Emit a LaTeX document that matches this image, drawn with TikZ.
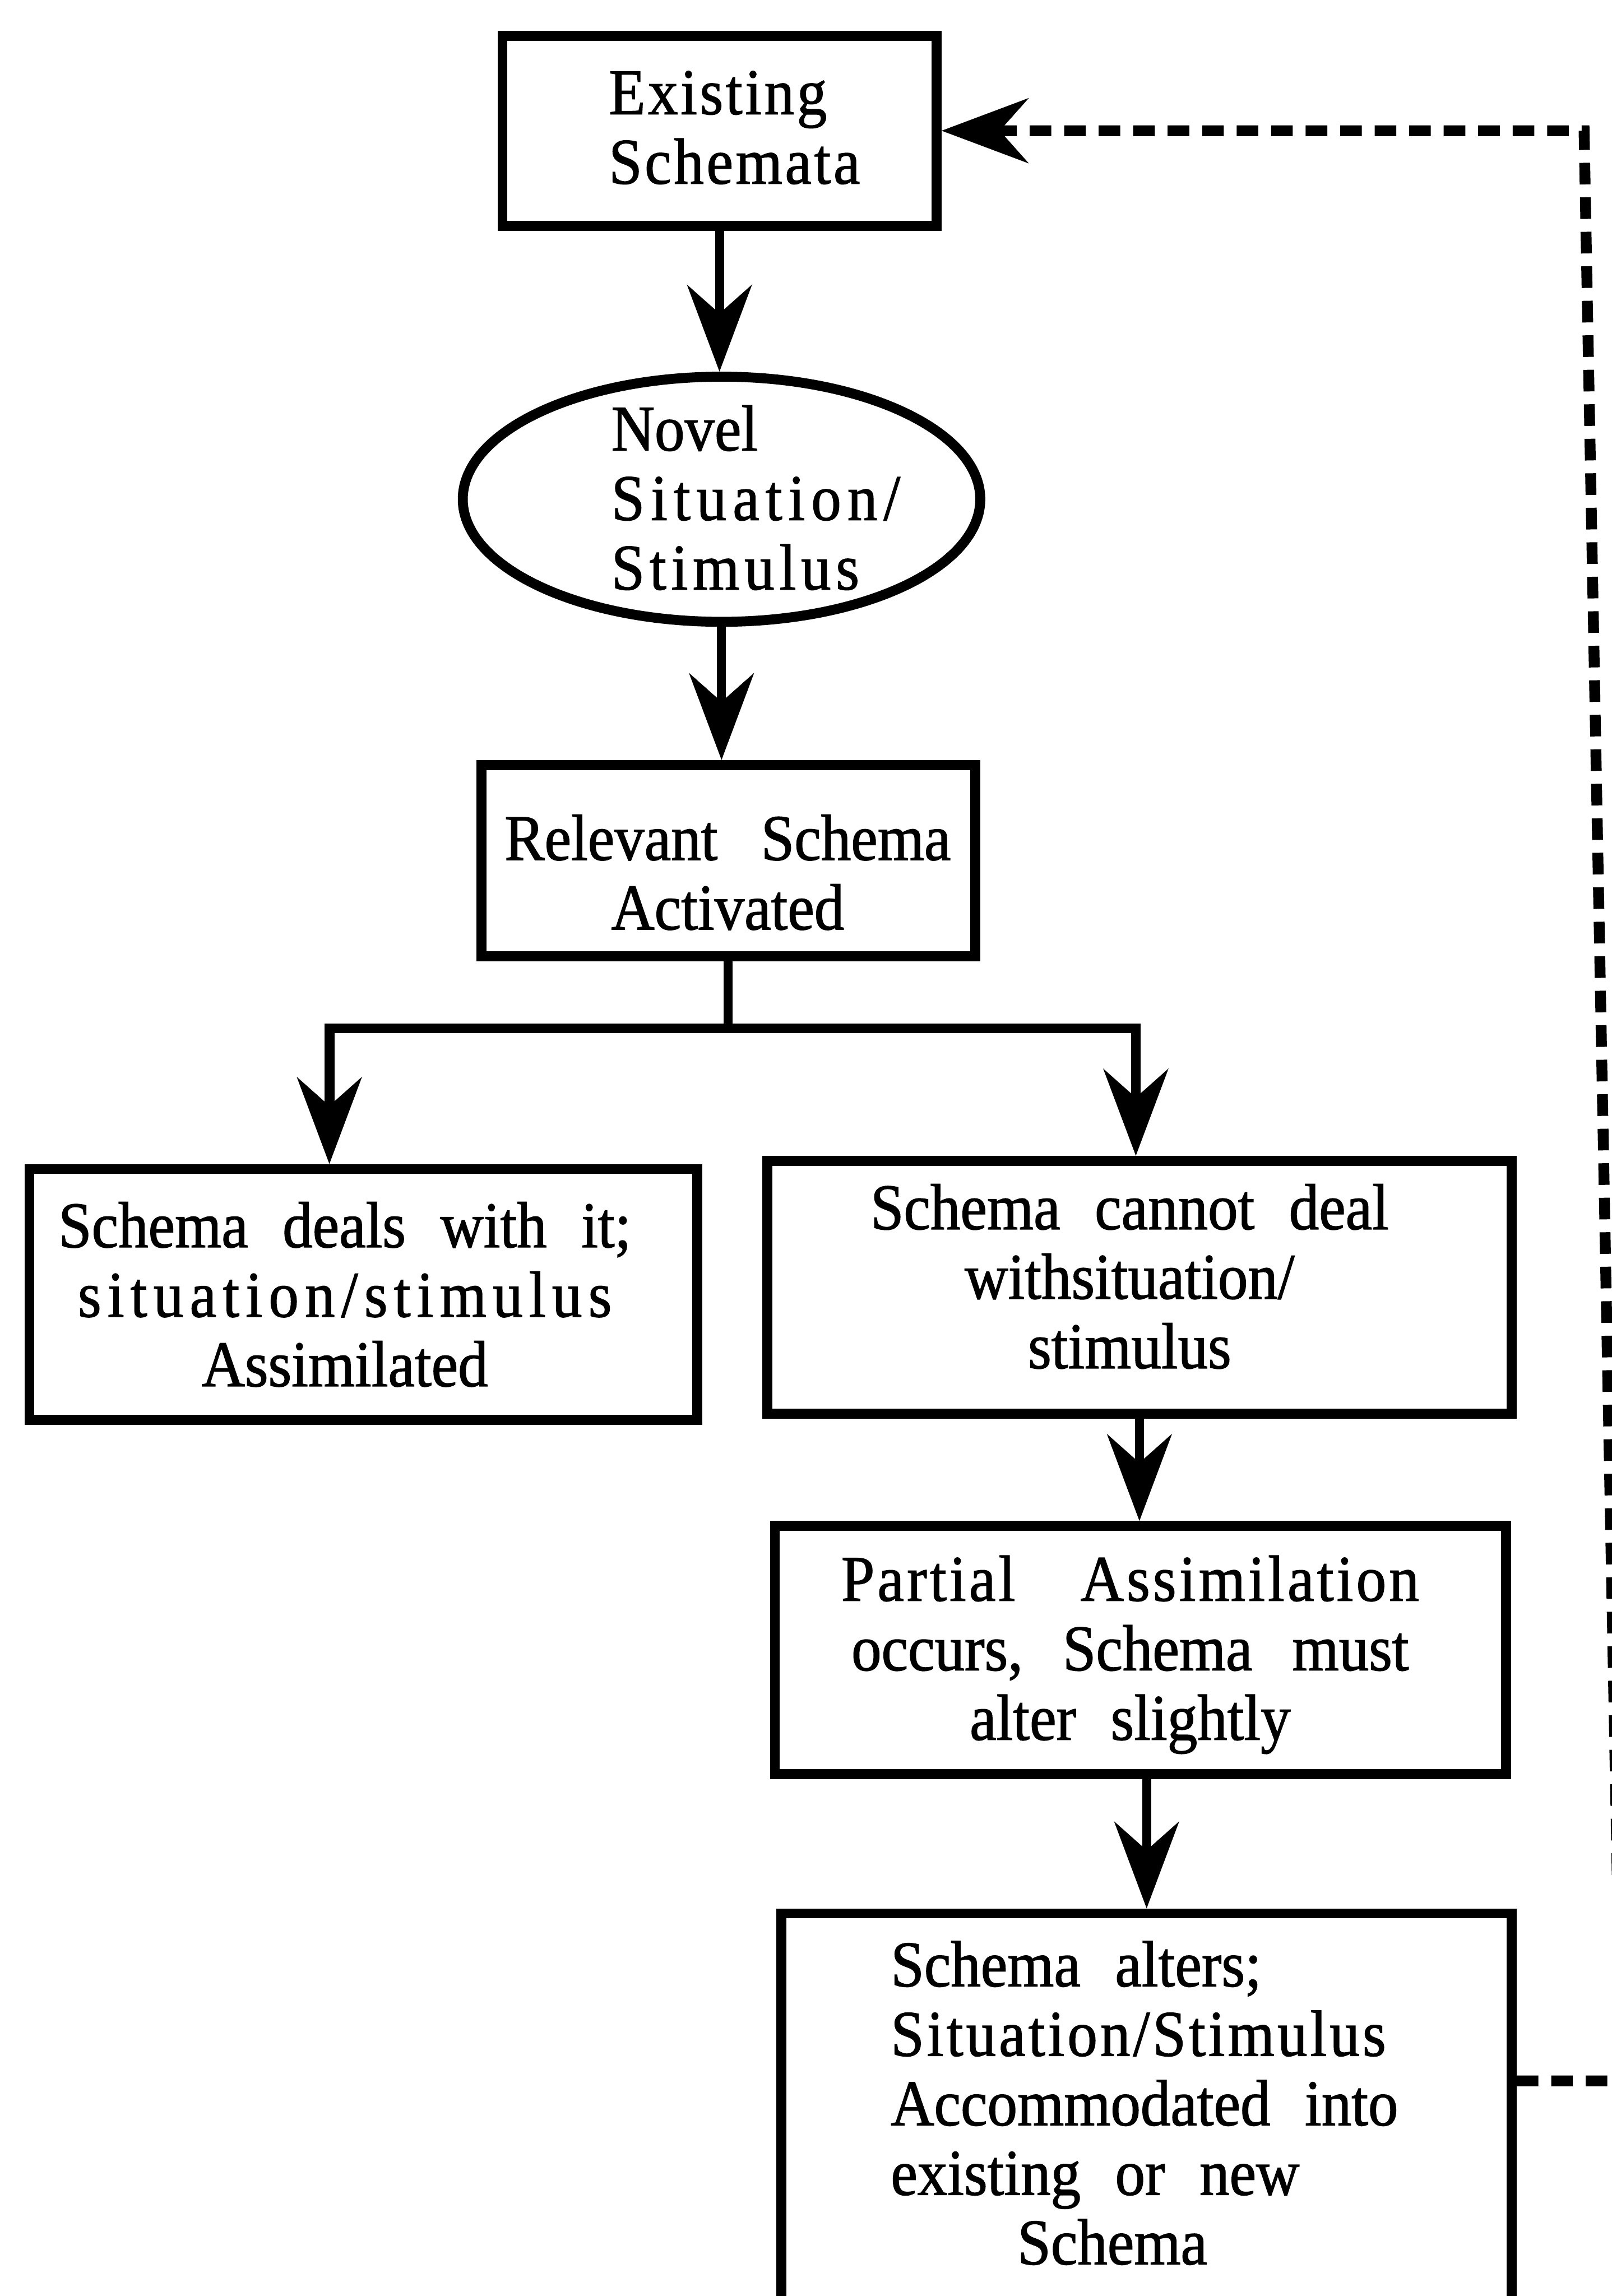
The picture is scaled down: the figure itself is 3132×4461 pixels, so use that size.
\documentclass[tikz,border=0pt]{standalone}
\usepackage{fontspec}
\setmainfont{Liberation Serif}[FakeStretch=0.92, WordSpace=2.3, FakeBold=1.2]
\usetikzlibrary{arrows.meta,shapes.geometric}
% letter-spaced word or line
\newcommand\tracked[2]{{\addfontfeature{LetterSpace=#1}#2}}

\begin{document}
\begin{tikzpicture}[x=0.01cm,y=-0.01cm,
  >={Stealth[length=1.68cm,width=1.25cm,inset=0.55cm]},
  box/.style={draw, rectangle, line width=5.5pt, inner sep=0pt},
  oval/.style={draw, ellipse, line width=5.5pt, inner sep=0pt},
  lbl/.style={font=\fontsize{36pt}{38.4pt}\selectfont, inner sep=0pt, outer sep=0pt},
  conn/.style={line width=5pt, ->},
  link/.style={line width=5pt},
  fork/.style={line width=5.5pt, line join=miter, <->},
  feedback/.style={line width=6pt, dash pattern=on 0.42cm off 0.25cm, line join=miter, ->}
]
\useasboundingbox (0,0) rectangle (3132,4461);
\fill[white] (0,0) rectangle (3132,4461);

% shapes
\node[box, minimum width=8.43cm, minimum height=3.69cm] (b1) at (1398,254) {};
\node[oval, minimum width=10.05cm, minimum height=4.76cm] (e) at (1402,970) {};
\node[box, minimum width=9.59cm, minimum height=3.71cm] (b3) at (1415,1672) {};
\node[box, minimum width=12.97cm, minimum height=4.87cm] (b4) at (706,2515) {};
\node[box, minimum width=14.45cm, minimum height=4.91cm] (b5) at (2214,2501) {};
\node[box, minimum width=14.20cm, minimum height=4.82cm] (b6) at (2216,3206) {};
\node[box, minimum width=14.18cm, minimum height=10cm, anchor=north] (b7) at (2228,3708) {};

% texts
\node[lbl, align=left, anchor=west] (t1) at (1183,248)
  {\tracked{4}{Existing}\\\tracked{4}{Schemata}};
\node[lbl, align=left, anchor=west] (te) at (1188,967)
  {Novel\\\tracked{9.5}{Situation/}\\\tracked{7.6}{Stimulus}};
\node[lbl, align=center] (t3) at (1414,1695)
  {Relevant\hspace{24pt}Schema\\Activated};
\node[lbl, align=center] (t4) at (670,2515)
  {Schema deals with it;\\\tracked{9.7}{situation/stimulus}\\Assimilated};
\node[lbl, align=center] (t5) at (2195,2480)
  {Schema cannot deal\\withsituation/\\stimulus};
\node[lbl, align=center] (t6) at (2196,3215)
  {\tracked{4.5}{Partial}\hspace{36pt}\tracked{4.5}{Assimilation}\\occurs,\hspace{22pt}Schema\hspace{22pt}must\\alter slightly};
\node[lbl, align=left, anchor=west] (t7) at (1731,4086)
  {Schema alters;\\\tracked{4.4}{Situation/Stimulus}\\Accommodated into\\existing or new\\\hspace*{70pt}Schema};

% branch points and feedback corners
\coordinate (jl) at (640,1998);
\coordinate (jr) at (2207,1998);
\coordinate (fbb) at (3150,4043);
\coordinate (fbt) at (3078,254);

% connectors
\draw[conn] (b1.south) -- (b1.south |- e.north);
\draw[conn] (e.south) -- (e.south |- b3.north);
\draw[link] (b3.south) -- (b3.south |- jl);
\draw[fork] (jl |- b4.north) -- (jl) -- (jr) -- (jr |- b5.north);
\draw[conn] (b5.south) -- (b5.south |- b6.north);
\draw[conn] (b7.north |- b6.south) -- (b7.north);
\draw[feedback] (b7.east |- fbb) -- (fbb) -- (fbt) -- (b1.east);
\end{tikzpicture}
\end{document}
